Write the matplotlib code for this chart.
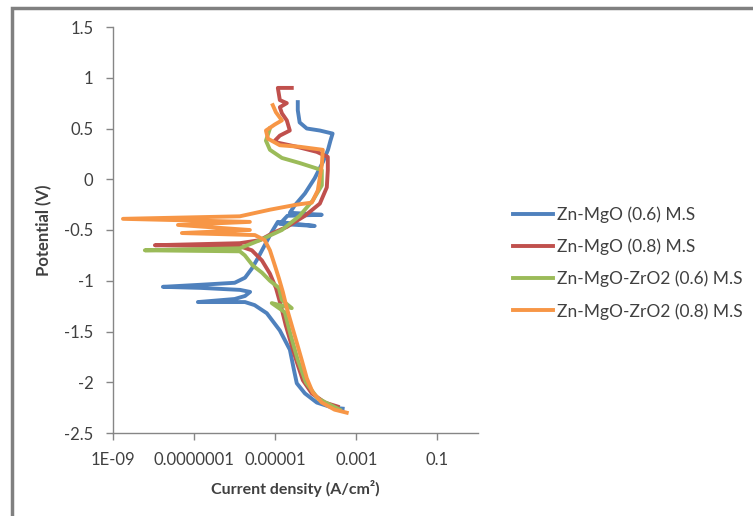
import matplotlib
matplotlib.use("Agg")
import matplotlib.pyplot as plt
from matplotlib.patches import Rectangle

plt.rcParams["font.family"] = ["Lato", "DejaVu Sans"]

# Tafel curves: current density (A/cm2) and potential (V)
labels = ["Zn-MgO (0.6) M.S", "Zn-MgO (0.8) M.S",
          "Zn-MgO-ZrO2 (0.6) M.S", "Zn-MgO-ZrO2 (0.8) M.S"]
colors = ["#4F81BD", "#C0504D", "#9BBB59", "#F79646"]

mgo06_i = [4.6e-4, 2.6e-4, 1.06e-4, 5.4e-5, 3.4e-5, 2.9e-5, 2.3e-5, 1.3e-5, 6.2e-6,
           3.1e-6, 1.8e-6, 1.24e-7, 1.0e-6, 1.8e-6, 2.4e-6, 1.35e-6, 1.4e-7, 1.7e-8,
           1.4e-7, 1.0e-6, 1.8e-6, 2.65e-6, 3.7e-6, 5.5e-6, 8.2e-6, 1.16e-5, 9.4e-5,
           1.3e-5, 2.0e-5, 1.4e-4, 2.3e-5, 3.0e-5, 5.4e-5, 9.4e-5, 1.5e-4, 2.0e-4,
           2.3e-4, 2.6e-4, 1.26e-4, 6.0e-5, 4.0e-5, 3.6e-5, 3.6e-5]
mgo06_e = [-2.26, -2.25, -2.20, -2.11, -2.01, -1.88, -1.68, -1.49, -1.32,
           -1.24, -1.21, -1.21, -1.18, -1.15, -1.11, -1.09, -1.07, -1.06,
           -1.04, -1.02, -0.97, -0.88, -0.78, -0.65, -0.52, -0.42, -0.46,
           -0.44, -0.36, -0.35, -0.33, -0.26, -0.14, 0.01, 0.17, 0.29,
           0.38, 0.45, 0.48, 0.50, 0.56, 0.68, 0.76]

mgo08_i = [3.5e-4, 1.67e-4, 8.0e-5, 4.8e-5, 3.4e-5, 2.56e-5, 1.82e-5, 1.37e-5, 1.04e-5,
           7.4e-6, 4.7e-6, 2.65e-6, 1.34e-6, 1.08e-8, 1.34e-6, 4.2e-6, 8.7e-6, 1.93e-5,
           5.4e-5, 1.26e-4, 1.87e-4, 1.98e-4, 1.98e-4, 1.06e-4, 3.4e-5, 1.16e-5, 9.8e-6,
           1.3e-5, 2.29e-5, 1.93e-5, 1.46e-5, 1.3e-5, 1.93e-5, 1.3e-5, 1.16e-5, 2.56e-5]
mgo08_e = [-2.24, -2.20, -2.11, -1.98, -1.80, -1.64, -1.44, -1.24, -1.07,
           -0.93, -0.80, -0.70, -0.66, -0.65, -0.63, -0.60, -0.53, -0.47,
           -0.36, -0.24, -0.08, 0.09, 0.22, 0.27, 0.32, 0.36, 0.38,
           0.43, 0.48, 0.58, 0.65, 0.71, 0.75, 0.78, 0.90, 0.90]

zr06_i = [3.9e-4, 1.12e-4, 5.7e-5, 3.6e-5, 2.42e-5, 1.72e-5, 8.2e-6, 2.56e-5, 1.46e-5,
          1.23e-5, 7.4e-6, 4.7e-6, 2.8e-6, 1.78e-6, 1.34e-6, 6.1e-9, 1.34e-6, 4.2e-6,
          1.46e-5, 4.0e-5, 8.4e-5, 1.41e-4, 1.41e-4, 4.0e-5, 1.46e-5, 7.4e-6, 5.9e-6, 7.4e-6]
zr06_e = [-2.27, -2.16, -2.00, -1.78, -1.54, -1.31, -1.22, -1.27, -1.19,
          -1.07, -1.00, -0.92, -0.85, -0.75, -0.71, -0.70, -0.68, -0.60,
          -0.50, -0.36, -0.21, -0.06, 0.09, 0.16, 0.21, 0.29, 0.38, 0.50]

zr08_i = [5.8e-4, 2.9e-4, 1.41e-4, 8.4e-5, 6.0e-5, 4.5e-5, 3.4e-5, 2.56e-5, 1.93e-5,
          1.54e-5, 1.23e-5, 9.8e-6, 7.4e-6, 5.5e-6, 3.15e-6, 5.0e-8, 2.37e-6, 4.0e-8,
          2.37e-6, 1.76e-9, 1.34e-6, 7.4e-6, 3.4e-5, 8.0e-5, 1.12e-4, 1.41e-4, 1.49e-4,
          4.0e-5, 1.3e-5, 6.6e-6, 5.9e-6, 9.8e-6, 1.46e-5, 1.04e-5, 8.7e-6]
zr08_e = [-2.30, -2.27, -2.20, -2.10, -1.96, -1.78, -1.61, -1.44, -1.27,
          -1.11, -0.975, -0.85, -0.70, -0.60, -0.55, -0.53, -0.50, -0.45,
          -0.42, -0.39, -0.365, -0.30, -0.25, -0.23, -0.11, 0.14, 0.29,
          0.32, 0.335, 0.40, 0.48, 0.54, 0.58, 0.66, 0.73]

series = [(mgo06_i, mgo06_e), (mgo08_i, mgo08_e), (zr06_i, zr06_e), (zr08_i, zr08_e)]

x_ticks = [1e-9, 1e-7, 1e-5, 1e-3, 1e-1]
x_ticklabels = ["1E-09", "0.0000001", "0.00001", "0.001", "0.1"]
y_ticks = [-2.5, -2, -1.5, -1, -0.5, 0, 0.5, 1, 1.5]
y_ticklabels = ["-2.5", "-2", "-1.5", "-1", "-0.5", "0", "0.5", "1", "1.5"]

fig = plt.figure(figsize=(7.53, 5.16), dpi=100)
ax = fig.add_axes([113 / 753, 1 - 433 / 516, (478 - 113) / 753, (433 - 27) / 516])

for (xi, ye), lab, col in zip(series, labels, colors):
    ax.plot(xi, ye, color=col, lw=2.8, label=lab, solid_joinstyle="round")

ax.set_xscale("log")
ax.set_xlim(1e-9, 1)
ax.set_ylim(-2.5, 1.5)
ax.set_xticks(x_ticks)
ax.set_xticklabels(x_ticklabels)
ax.minorticks_off()
ax.set_yticks(y_ticks)
ax.set_yticklabels(y_ticklabels)

grey = "#868686"
text_col = "#404040"
for s in ["top", "right"]:
    ax.spines[s].set_visible(False)
for s in ["left", "bottom"]:
    ax.spines[s].set_color(grey)
    ax.spines[s].set_linewidth(1.0)
ax.tick_params(colors=grey, labelcolor=text_col, labelsize=12, length=5, width=1, pad=9)

ax.set_xlabel("Current density (A/cm²)", fontsize=11.5, fontweight="bold",
              color=text_col, labelpad=8)
ax.set_ylabel("Potential (V)", fontsize=12, fontweight="bold",
              color=text_col, labelpad=9)

handles, labs = ax.get_legend_handles_labels()
fig.legend(handles, labs, loc="center left", bbox_to_anchor=(513 / 753, 1 - 263 / 516),
           frameon=False, fontsize=12.5, handlelength=2.3, handletextpad=0.25,
           labelspacing=0.9, borderpad=0, borderaxespad=0, labelcolor=text_col)

# outer chart border (cut at right and bottom like the reference)
fig.patches.append(Rectangle((12 / 753, -0.1), 1.0, 1.1 - 8 / 516,
                             transform=fig.transFigure, fill=False,
                             edgecolor="#808080", linewidth=2.5))

fig.savefig("out.png", dpi=100)
